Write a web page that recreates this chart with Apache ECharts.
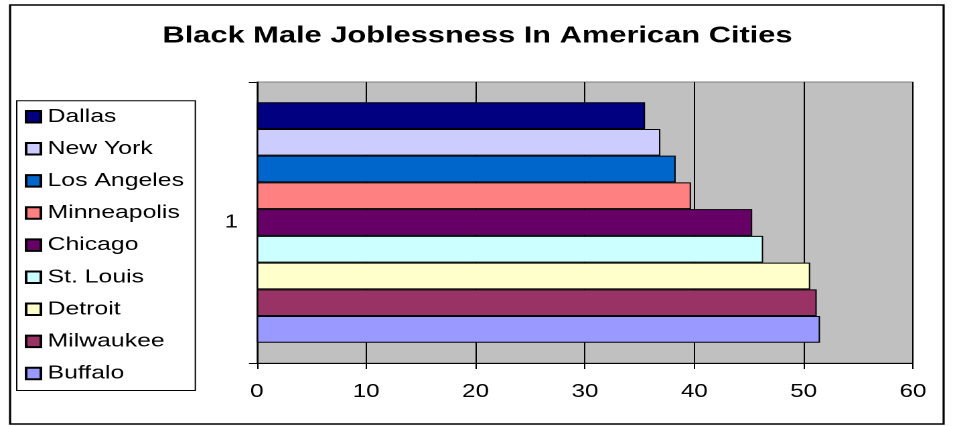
<!DOCTYPE html>
<html>
<head>
<meta charset="utf-8">
<script src="https://cdn.jsdelivr.net/npm/echarts@6/dist/echarts.min.js"></script>
<style>
html,body{margin:0;padding:0;background:#fff;overflow:hidden;width:955px;height:426px;}
#chart{width:713px;height:426px;transform:scaleX(1.3394);transform-origin:0 0;}
</style>
</head>
<body>
<div id="chart"></div>
<script>
var categories = ['1'];
var cities = ['Dallas','New York','Los Angeles','Minneapolis','Chicago','St. Louis','Detroit','Milwaukee','Buffalo'];
var values = [35.5, 36.9, 38.3, 39.7, 45.3, 46.3, 50.6, 51.2, 51.5];
var colors = ['#000080','#CCCCFF','#0066CC','#FF8080','#660066','#CCFFFF','#FFFFCC','#993366','#9999FF'];
var xTicks = [0, 10, 20, 30, 40, 50, 60];

var FONT = '"Liberation Sans", Arial, sans-serif';
var chart = echarts.init(document.getElementById('chart'), null, {renderer:'canvas', devicePixelRatio:2});

var series = cities.map(function(name, i){
  return {
    name: name,
    type: 'bar',
    data: [values[i]],
    barGap: '0%',
    barCategoryGap: '14.4%',
    itemStyle: {color: colors[i], borderColor: '#000', borderWidth: 1},
    emphasis: {disabled: true}
  };
});

chart.setOption({
  animation: false,
  backgroundColor: '#fff',
  title: {
    text: 'Black Male Joblessness In American Cities',
    left: 'center',
    top: 24,
    padding: 0,
    textStyle: {fontFamily: FONT, fontSize: 23, fontWeight: 'bold', color: '#000', lineHeight: 24}
  },
  graphic: [{
    type: 'rect',
    shape: {x: 7.5, y: 5, width: 697, height: 419},
    style: {fill: 'none', stroke: '#000', lineWidth: 1.6},
    silent: true,
    z: -1
  }],
  legend: {
    orient: 'vertical',
    left: 12.5,
    top: 100.7,
    padding: [6.5, 8.5, 7.5, 6],
    itemWidth: 11,
    itemHeight: 11.5,
    itemGap: 13.1,
    icon: 'rect',
    borderColor: '#000',
    borderWidth: 1,
    selectedMode: false,
    textStyle: {fontFamily: FONT, fontSize: 18.5, color: '#000', lineHeight: 19},
    data: cities
  },
  grid: {
    left: 191.8,
    right: 31.4,
    top: 82,
    bottom: 63,
    show: true,
    backgroundColor: '#C0C0C0',
    borderColor: '#808080',
    borderWidth: 1
  },
  xAxis: {
    type: 'value',
    min: xTicks[0],
    max: xTicks[xTicks.length - 1],
    interval: 10,
    axisLine: {show: true, lineStyle: {color: '#000', width: 1}},
    axisTick: {show: true, length: 6, lineStyle: {color: '#000'}},
    splitLine: {show: true, lineStyle: {color: '#000', width: 1}},
    axisLabel: {fontFamily: FONT, fontSize: 18, color: '#000', margin: 20}
  },
  yAxis: {
    type: 'category',
    data: categories,
    axisLine: {show: true, lineStyle: {color: '#000', width: 1}},
    axisTick: {show: true, length: 6, alignWithLabel: false, lineStyle: {color: '#000'}},
    axisLabel: {fontFamily: FONT, fontSize: 18, color: '#000', margin: 14}
  },
  series: series
});
</script>
</body>
</html>
